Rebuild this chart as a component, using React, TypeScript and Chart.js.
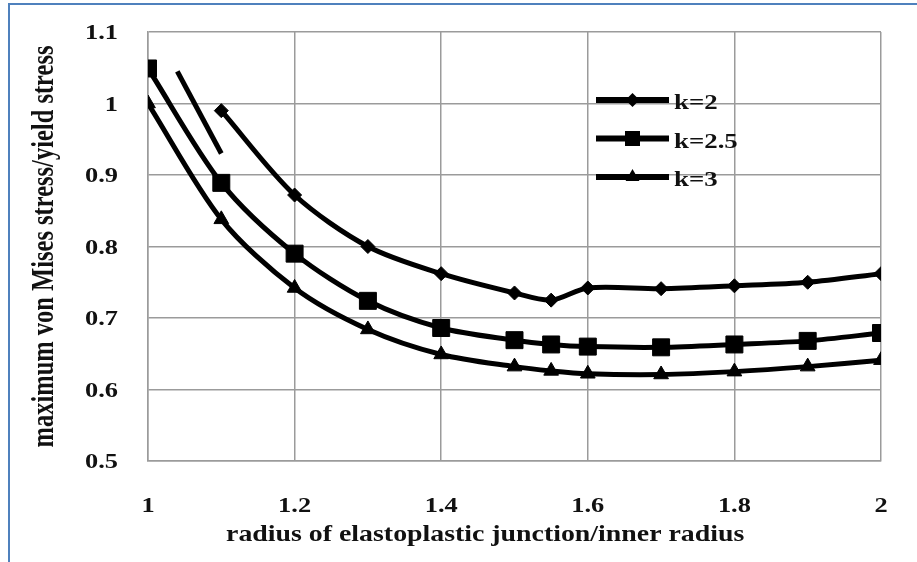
import React, { useEffect, useRef } from "react";
import { Chart, registerables } from "chart.js";

Chart.register(...registerables);

// ---- data ----
const xK2 = [1.1, 1.2, 1.3, 1.4, 1.5, 1.55, 1.6, 1.7, 1.8, 1.9, 2.0];
const yK2 = [0.99, 0.872, 0.8, 0.762, 0.735, 0.725, 0.742, 0.741, 0.745, 0.75, 0.762];

const xK25 = [1.0, 1.1, 1.2, 1.3, 1.4, 1.5, 1.55, 1.6, 1.7, 1.8, 1.9, 2.0];
const yK25 = [1.049, 0.889, 0.79, 0.724, 0.686, 0.669, 0.663, 0.66, 0.659, 0.663, 0.668, 0.679];

const xK3 = [1.0, 1.1, 1.2, 1.3, 1.4, 1.5, 1.55, 1.6, 1.7, 1.8, 1.9, 2.0];
const yK3 = [1.0, 0.838, 0.742, 0.684, 0.649, 0.632, 0.626, 0.622, 0.621, 0.625, 0.632, 0.641];

// stray unmarked segment near the start of the k=2 curve
const xStray = [1.04, 1.1];
const yStray = [1.045, 0.93];

const seriesLabels = ["k=2", "k=2.5", "k=3"];
const seriesMarkers = ["diamond", "square", "triangle"];
const xTitle = "radius of elastoplastic junction/inner radius";
const yTitle = "maximum von Mises stress/yield stress";
const xMin = 1, xMax = 2, xStep = 0.2;
const yMin = 0.5, yMax = 1.1, yStep = 0.1;

const FONT = '"Liberation Serif", "Times New Roman", serif';

const toPts = (xs: number[], ys: number[]) => xs.map((x, i) => ({ x, y: ys[i] }));
const fmt = (v: number) => String(parseFloat(v.toFixed(2)));

function drawMarker(ctx: CanvasRenderingContext2D, kind: string, x: number, y: number) {
  ctx.beginPath();
  if (kind === "diamond") {
    const r = 7;
    ctx.moveTo(x - r, y); ctx.lineTo(x, y - r); ctx.lineTo(x + r, y); ctx.lineTo(x, y + r);
  } else if (kind === "square") {
    const s = 7.5;
    ctx.rect(x - s, y - s, 2 * s, 2 * s);
  } else {
    const r = 8;
    ctx.moveTo(x, y - r);
    ctx.lineTo(x + r * 0.866, y + r / 2);
    ctx.lineTo(x - r * 0.866, y + r / 2);
  }
  ctx.closePath();
  ctx.fill();
}

const textPlugin = {
  id: "customText",
  afterDraw(chart: any) {
    const { ctx, chartArea: ca, scales } = chart;
    const xs = scales.x, ys = scales.y;
    ctx.save();
    ctx.fillStyle = "#111";

    // y tick labels
    ctx.font = `bold 22px ${FONT}`;
    ctx.textAlign = "right";
    ctx.textBaseline = "alphabetic";
    ys.ticks.forEach((t: any) => {
      const py = ys.getPixelForValue(t.value);
      ctx.save();
      ctx.translate(ca.left - 30, py + 7);
      ctx.scale(1.2, 1);
      ctx.fillText(fmt(t.value), 0, 0);
      ctx.restore();
    });

    // x tick labels
    ctx.textAlign = "center";
    xs.ticks.forEach((t: any) => {
      const px = xs.getPixelForValue(t.value);
      ctx.save();
      ctx.translate(px, ca.bottom + 51);
      ctx.scale(1.2, 1);
      ctx.fillText(fmt(t.value), 0, 0);
      ctx.restore();
    });

    // x title
    ctx.font = `bold 24px ${FONT}`;
    ctx.save();
    ctx.translate(ca.left + ca.width * 0.46, ca.bottom + 80);
    ctx.scale(1.16, 1);
    ctx.fillText(xTitle, 0, 0);
    ctx.restore();

    // y title
    ctx.font = `bold 24.5px ${FONT}`;
    ctx.save();
    ctx.translate(53, (ca.top + ca.bottom) / 2);
    ctx.scale(1.25, 1);
    ctx.rotate(-Math.PI / 2);
    ctx.fillText(yTitle, 0, 0);
    ctx.restore();

    // legend
    const lx0 = ca.left + 448;
    const lx1 = ca.left + 521;
    const lmid = (lx0 + lx1) / 2;
    seriesLabels.forEach((lab, i) => {
      const ly = ca.top + 68 + i * 38.5;
      ctx.strokeStyle = "#000";
      ctx.fillStyle = "#000";
      ctx.lineWidth = 6;
      ctx.beginPath();
      ctx.moveTo(lx0, ly);
      ctx.lineTo(lx1, ly);
      ctx.stroke();
      drawMarker(ctx, seriesMarkers[i], lmid, ly);
      ctx.fillStyle = "#111";
      ctx.font = `bold 22px ${FONT}`;
      ctx.textAlign = "left";
      ctx.save();
      ctx.translate(lx1 + 5, ly + 9);
      ctx.scale(1.22, 1);
      ctx.fillText(lab, 0, 0);
      ctx.restore();
    });
    ctx.restore();
  },
};

export default function App() {
  const ref = useRef<HTMLCanvasElement | null>(null);

  useEffect(() => {
    if (!ref.current) return;
    const gridColor = "rgb(155,155,155)";
    const base = {
      borderColor: "#000",
      backgroundColor: "#000",
      pointBackgroundColor: "#000",
      pointBorderColor: "#000",
      borderWidth: 5,
      pointBorderWidth: 1,
      tension: 0.3,
      fill: false,
    };
    const chart = new Chart(ref.current, {
      type: "line",
      data: {
        datasets: [
          { ...base, label: seriesLabels[0], data: toPts(xK2, yK2), pointStyle: "rectRot", pointRadius: 7 },
          { ...base, label: seriesLabels[1], data: toPts(xK25, yK25), pointStyle: "rect", pointRadius: 12 },
          { ...base, label: seriesLabels[2], data: toPts(xK3, yK3), pointStyle: "triangle", pointRadius: 8.5 },
          { ...base, label: "", data: toPts(xStray, yStray), pointRadius: 0, tension: 0 },
        ],
      },
      options: {
        animation: false,
        responsive: false,
        devicePixelRatio: 1,
        layout: { padding: { top: 32, right: 36, left: 0, bottom: 0 } },
        plugins: { legend: { display: false }, tooltip: { enabled: false } },
        scales: {
          x: {
            type: "linear",
            min: xMin,
            max: xMax,
            ticks: { stepSize: xStep, display: false },
            grid: { color: gridColor, lineWidth: 1.5, drawTicks: false },
            border: { display: true, color: gridColor, width: 1.5 },
            afterFit(s: any) { s.height = 101; },
          },
          y: {
            type: "linear",
            min: yMin,
            max: yMax,
            ticks: { stepSize: yStep, display: false },
            grid: { color: gridColor, lineWidth: 1.5, drawTicks: false },
            border: { display: true, color: gridColor, width: 1.5 },
            afterFit(s: any) { s.width = 148; },
          },
        },
      } as any,
      plugins: [textPlugin],
    });
    return () => chart.destroy();
  }, []);

  return (
    <div style={{ position: "fixed", left: 0, top: 0, width: 917, height: 562, background: "#fff", overflow: "hidden" }}>
      <canvas ref={ref} width={917} height={562} style={{ display: "block", width: 917, height: 562 }} />
      <div
        style={{
          position: "absolute",
          left: 8,
          top: 3,
          width: 940,
          height: 600,
          borderTop: "2px solid #4f81bd",
          borderLeft: "2px solid #4f81bd",
          pointerEvents: "none",
        }}
      />
    </div>
  );
}
